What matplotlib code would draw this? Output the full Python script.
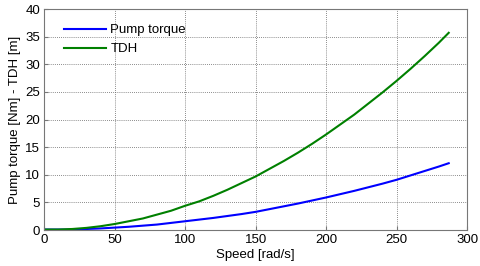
import matplotlib
matplotlib.use("Agg")
import matplotlib.pyplot as plt

# values
speed = [0, 10, 20, 30, 40, 50, 60, 70, 80, 90, 100, 110, 120, 130, 140, 150,
         160, 170, 180, 190, 200, 210, 220, 230, 240, 250, 260, 270, 280, 287]
pump_torque = [0.1, 0.1, 0.1, 0.2, 0.3, 0.45, 0.6, 0.8, 1.0, 1.3, 1.6, 1.9, 2.2, 2.55, 2.9, 3.3,
               3.8, 4.3, 4.8, 5.35, 5.9, 6.5, 7.1, 7.75, 8.4, 9.1, 9.9, 10.7, 11.5, 12.1]
tdh = [0.1, 0.1, 0.2, 0.4, 0.7, 1.1, 1.6, 2.1, 2.8, 3.5, 4.4, 5.2, 6.2, 7.3, 8.5, 9.7,
       11.1, 12.5, 14.0, 15.6, 17.3, 19.1, 20.9, 22.9, 24.9, 27.0, 29.2, 31.5, 33.9, 35.7]

plt.rcParams['font.family'] = ['Liberation Sans', 'DejaVu Sans']
plt.rcParams['font.size'] = 9.5

fig = plt.figure(figsize=(4.8, 2.66), dpi=100)
ax = fig.add_axes([0.092, 0.135, 0.881, 0.831])

ax.plot(speed, pump_torque, color='#0000ff', linewidth=1.5, label='Pump torque')
ax.plot(speed, tdh, color='#008000', linewidth=1.5, label='TDH')

ax.set_xlim(0, 300)
ax.set_ylim(0, 40)
ax.set_xticks(range(0, 301, 50))
ax.set_yticks(range(0, 41, 5))
ax.grid(True, linestyle=(0, (1, 1.5)), color='#666666', linewidth=0.6)
ax.tick_params(direction='in', length=3, color='#777777', pad=3)
for s in ax.spines.values():
    s.set_color('#777777')

ax.set_xlabel("Speed [rad/s]", labelpad=2)
ax.set_ylabel("Pump torque [Nm] - TDH [m]", labelpad=3)
ax.legend(loc='upper left', frameon=False, handlelength=3.2, handletextpad=0.35,
          labelspacing=0.5, bbox_to_anchor=(0.018, 0.985))

fig.savefig("out.png", dpi=100)
